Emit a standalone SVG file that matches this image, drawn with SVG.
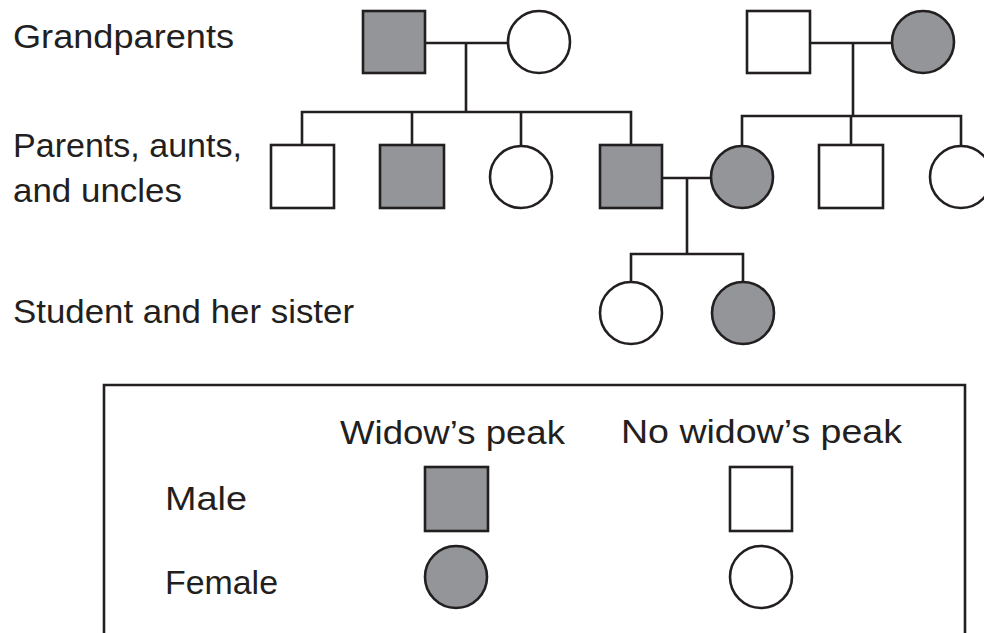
<svg xmlns="http://www.w3.org/2000/svg" width="984" height="633" viewBox="0 0 984 633">
<style>
.s{stroke:#231f20;stroke-width:2.6;}
.f{fill:#939598;}
.w{fill:#ffffff;}
.ln{stroke:#231f20;stroke-width:2.6;fill:none;stroke-linecap:square;}
text{font-family:"Liberation Sans",Arial,sans-serif;font-size:34px;fill:#231f20;}
</style>
<rect width="984" height="633" fill="#ffffff"/>
<g id="labels">
<text x="13" y="48" textLength="221" lengthAdjust="spacingAndGlyphs">Grandparents</text>
<text x="13" y="157" textLength="229" lengthAdjust="spacingAndGlyphs">Parents, aunts,</text>
<text x="13" y="202" textLength="169" lengthAdjust="spacingAndGlyphs">and uncles</text>
<text x="13" y="323" textLength="341" lengthAdjust="spacingAndGlyphs">Student and her sister</text>
</g>
<g id="connectors" class="ln">
<path d="M425,43H508M466,43V112M302,112H631M302,112V145M412,112V145M521,112V146M631,112V145"/>
<path d="M810,43H892M853,43V116M742,116H961M742,116V146M851,116V145M961,116V146"/>
<path d="M662,178H711M687,178V254M631,254H743M631,254V282M743,254V282"/>
</g>
<g id="gp1-male"><rect class="s f" x="363" y="11" width="62" height="62"/></g>
<g id="gp1-female"><circle class="s w" cx="539" cy="42" r="31"/></g>
<g id="gp2-male"><rect class="s w" x="747" y="11" width="63" height="62"/></g>
<g id="gp2-female"><circle class="s f" cx="923" cy="42" r="31"/></g>
<g id="uncle1"><rect class="s w" x="271" y="145" width="63" height="63"/></g>
<g id="uncle2"><rect class="s f" x="380" y="145" width="64" height="63"/></g>
<g id="aunt1"><circle class="s w" cx="521" cy="177" r="31"/></g>
<g id="father"><rect class="s f" x="600" y="145" width="62" height="63"/></g>
<g id="mother"><circle class="s f" cx="742" cy="177" r="31"/></g>
<g id="uncle3"><rect class="s w" x="819" y="145" width="64" height="63"/></g>
<g id="aunt2"><circle class="s w" cx="961" cy="177" r="31"/></g>
<g id="student"><circle class="s w" cx="631" cy="313" r="31"/></g>
<g id="sister"><circle class="s f" cx="743" cy="313" r="31"/></g>
<g id="legend">
<path class="ln" d="M104,645V385H965V645" stroke-linecap="butt"/>
<text x="340" y="444" textLength="225" lengthAdjust="spacingAndGlyphs">Widow’s peak</text>
<text x="621" y="443" textLength="281" lengthAdjust="spacingAndGlyphs">No widow’s peak</text>
<text x="165" y="510" textLength="82" lengthAdjust="spacingAndGlyphs">Male</text>
<text x="165" y="594" textLength="113" lengthAdjust="spacingAndGlyphs">Female</text>
<rect class="s f" x="425" y="467" width="63" height="64"/>
<rect class="s w" x="730" y="467" width="62" height="64"/>
<circle class="s f" cx="456" cy="577" r="31"/>
<circle class="s w" cx="761" cy="577" r="31"/>
</g>
</svg>
